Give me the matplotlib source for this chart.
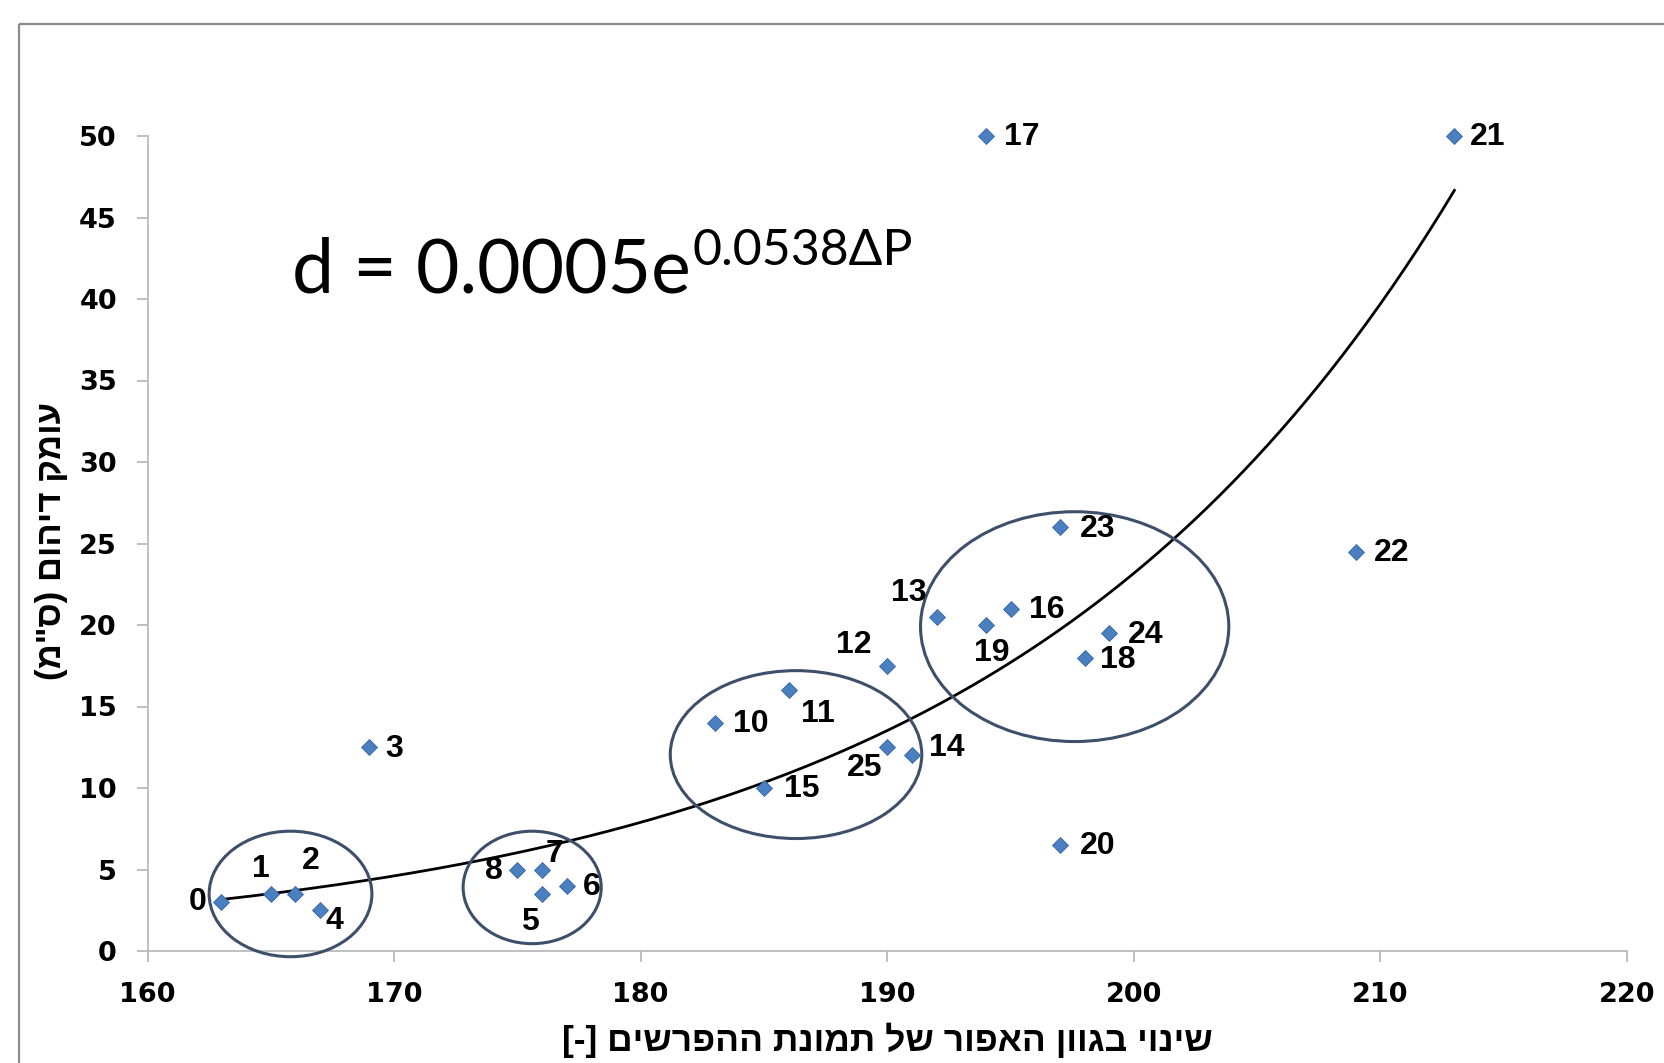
import numpy as np
import matplotlib
matplotlib.use('Agg')
import matplotlib.pyplot as plt
from matplotlib.patches import Ellipse, Rectangle
from matplotlib.transforms import IdentityTransform

# data
point_ids = [0, 1, 2, 3, 4, 5, 6, 7, 8, 10, 11, 12, 13, 14, 15, 16, 17, 18, 19, 20, 21, 22, 23, 24, 25]
gray_change = [163, 165, 166, 169, 167, 176, 177, 176, 175, 183, 186, 190, 192, 191, 185, 195, 194, 198, 194, 197, 213, 209, 197, 199, 190]
depth = [3.0, 3.5, 3.5, 12.5, 2.5, 3.5, 4.0, 5.0, 5.0, 14.0, 16.0, 17.5, 20.5, 12.0, 10.0, 21.0, 50.0, 18.0, 20.0, 6.5, 50.0, 24.5, 26.0, 19.5, 12.5]

x_ticks = [160, 170, 180, 190, 200, 210, 220]
y_ticks = [0, 5, 10, 15, 20, 25, 30, 35, 40, 45, 50]

x_title = 'שינוי בגוון האפור של תמונת ההפרשים'
y_title = 'עומק דיהום (ס"מ)'
eq_main = 'd = 0.0005e'
eq_sup = '0.0538ΔP'

# label offsets (points) from each marker
label_off = {
    0: (-17, 0), 1: (-7, 18), 2: (11, 24), 3: (18, -1), 4: (10, -8),
    5: (-9, -20), 6: (18, -1), 7: (9, 11), 8: (-17, -1), 10: (26, -1),
    11: (21, -17), 12: (-24, 15), 13: (-20, 17), 14: (25, 5), 15: (27, -1),
    16: (26, -1), 17: (26, -1), 18: (24, -2), 19: (4, -20), 20: (27, -1),
    21: (24, -1), 22: (26, -1), 23: (27, -1), 24: (26, -1), 25: (-16, -15),
}

# cluster ellipses: centre x, centre y, width, height (data units)
clusters = [
    (165.8, 3.5, 6.6, 7.7),
    (175.6, 3.9, 5.6, 6.9),
    (186.3, 12.05, 10.2, 10.3),
    (197.6, 19.9, 12.5, 14.1),
]


def visual(s):
    # matplotlib has no bidi: reverse hebrew and mirror brackets
    r = s[::-1]
    return r.translate(str.maketrans('()[]', ')(]['))


fig = plt.figure(figsize=(16.64, 10.63), dpi=100)
ax = fig.add_axes([147.5 / 1664, 1 - 951 / 1063, (1627 - 147.5) / 1664, (951 - 136) / 1063])

ax.set_xlim(160, 220)
ax.set_ylim(0, 50)
for s in ['top', 'right']:
    ax.spines[s].set_visible(False)
for s in ['left', 'bottom']:
    ax.spines[s].set_color('#b5b5b5')
    ax.spines[s].set_linewidth(1.2)

ax.set_xticks(x_ticks)
ax.set_yticks(y_ticks)
ax.tick_params(direction='out', length=8, width=1.2, color='#b5b5b5')
ax.tick_params(axis='x', pad=14)
ax.tick_params(axis='y', pad=14)
for lab in ax.get_xticklabels() + ax.get_yticklabels():
    lab.set_fontfamily('DejaVu Sans')
    lab.set_fontweight('bold')
    lab.set_fontsize(19.5)

# exponential trendline (least squares on log y)
xs = np.array(gray_change, dtype=float)
ys = np.array(depth, dtype=float)
b, a = np.polyfit(xs, np.log(ys), 1)
xx = np.linspace(xs.min(), xs.max(), 300)
ax.plot(xx, np.exp(a) * np.exp(b * xx), color='black', lw=2.0, zorder=3)

for cx, cy, w, h in clusters:
    ax.add_patch(Ellipse((cx, cy), w, h, fill=False, ec='#3e4f6b', lw=2.2, clip_on=False, zorder=4))

ax.plot(gray_change, depth, 'D', ms=8.5, color='#4a7fc0', mec='#3566a8', mew=0.6,
        clip_on=False, zorder=5)

for pid, x, y in zip(point_ids, gray_change, depth):
    dx, dy = label_off[pid]
    ax.annotate(str(pid), (x, y), xytext=(dx, dy), textcoords='offset points',
                ha='center', va='center', fontsize=23, fontweight='bold',
                family=['Liberation Sans', 'DejaVu Sans'], zorder=6)

# equation
main = ax.text(165.85, 40.4, eq_main, fontsize=54, family=['Lato', 'DejaVu Sans'],
               ha='left', va='baseline')
fig.canvas.draw()
bb = main.get_window_extent()
base_y = ax.transData.transform((165.85, 40.4))[1]
fig.text(bb.x1 + 2, base_y + 27, eq_sup, fontsize=36, family=['Lato', 'DejaVu Sans'],
         ha='left', va='baseline', transform=IdentityTransform())

fig.text(887 / 1664, 1 - 1040 / 1063, '[-] ' + visual(x_title), ha='center', va='center',
         fontsize=25.5, fontweight='bold', family=['Liberation Sans', 'DejaVu Sans'])
fig.text(51 / 1664, 1 - 541 / 1063, visual(y_title), ha='center', va='center', rotation=90,
         fontsize=25, fontweight='bold', family=['Liberation Sans', 'DejaVu Sans'])

# chart border (cropped)
fig.add_artist(Rectangle((19 / 1664, 1 - 24 / 1063), 2, -2, transform=fig.transFigure,
                         fill=False, ec='#8c8c8c', lw=1.6))

fig.savefig('out.png', dpi=100)
